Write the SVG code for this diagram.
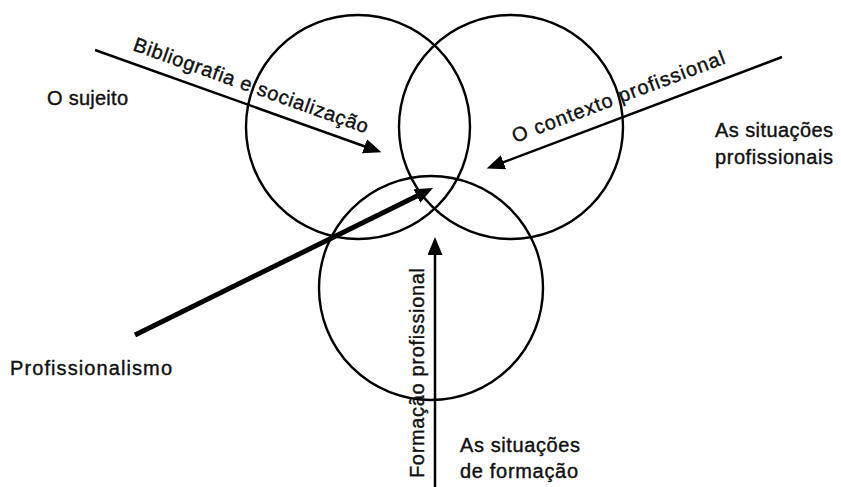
<svg xmlns="http://www.w3.org/2000/svg" width="841" height="487" viewBox="0 0 841 487">
<style>
.c{fill:none;stroke:#000;stroke-width:2.4}
.a{fill:none;stroke:#000;stroke-width:2.5}
.t{font-family:"Liberation Sans",Arial,sans-serif;font-size:20px;fill:#111;stroke:#111;stroke-width:0.4}
</style>
<defs>
<marker id="ah" markerUnits="userSpaceOnUse" markerWidth="20" markerHeight="16" refX="8" refY="7.5" orient="auto">
<path d="M0,0 L18,7.5 L0,15 z" fill="#000"/>
</marker>
</defs>
<rect width="841" height="487" fill="#fff"/>
<g id="circle-sujeito"><circle class="c" cx="358" cy="127" r="112"/></g>
<g id="circle-contexto"><circle class="c" cx="511" cy="127" r="112"/></g>
<g id="circle-formacao"><circle class="c" cx="431" cy="288" r="112"/></g>
<g id="connectors">
<line class="a" x1="95" y1="50" x2="372" y2="149" marker-end="url(#ah)"/>
<line class="a" x1="782" y1="57" x2="496" y2="165" marker-end="url(#ah)"/>
<line fill="none" stroke="#000" stroke-width="5" x1="135" y1="335" x2="424" y2="192.5" marker-end="url(#ah)"/>
<line class="a" x1="435" y1="490" x2="435" y2="247" marker-end="url(#ah)"/>
</g>
<g id="label-sujeito"><text class="t" x="47" y="105" textLength="81">O sujeito</text></g>
<g id="label-situacoes-prof"><text class="t" x="715" y="137" textLength="118">As situações</text><text class="t" x="715" y="164" textLength="118">profissionais</text></g>
<g id="label-profissionalismo"><text class="t" x="10" y="375" textLength="162">Profissionalismo</text></g>
<g id="label-situacoes-form"><text class="t" x="460" y="452" textLength="120">As situações</text><text class="t" x="460" y="478" textLength="118">de formação</text></g>
<g id="label-bibliografia"><text class="t" transform="translate(132,50) rotate(19.7)" textLength="248">Bibliografia e socialização</text></g>
<g id="label-contexto"><text class="t" transform="translate(515,143) rotate(-20.7)" textLength="226">O contexto profissional</text></g>
<g id="label-formacao"><text class="t" transform="translate(424,478) rotate(-90)" textLength="210">Formação profissional</text></g>
</svg>
